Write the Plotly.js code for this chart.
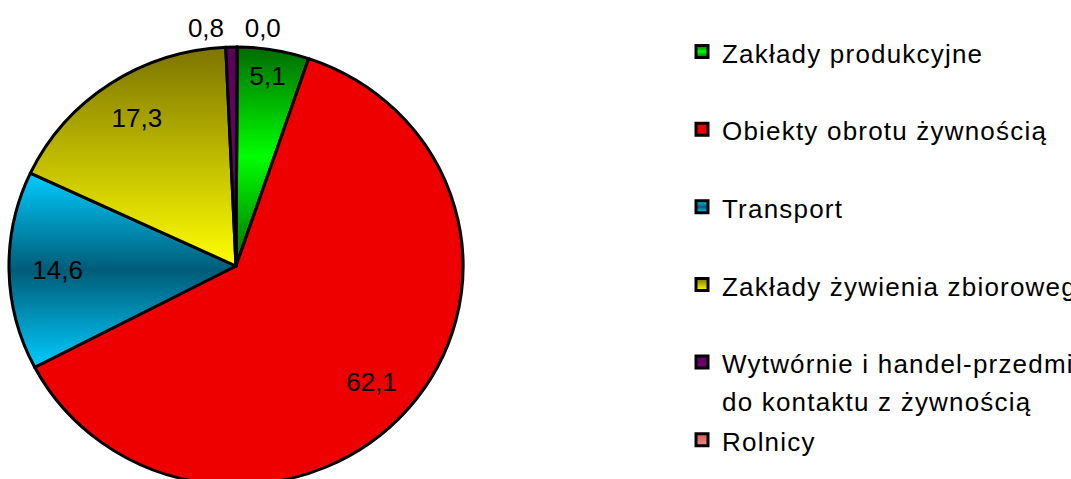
<!DOCTYPE html>
<html>
<head>
<meta charset="utf-8">
<script src="https://cdn.plot.ly/plotly-3.0.1.min.js"></script>
<style>
html, body { margin: 0; padding: 0; overflow: hidden; background: #ffffff; }
#chart { width: 1071px; height: 532px; }
</style>
</head>
<body>
<div id="chart"></div>
<script>
// ---- data ----
const categories = [
  "Zakłady produkcyjne",
  "Obiekty obrotu żywnością",
  "Transport",
  "Zakłady żywienia zbiorowego",
  "Wytwórnie i handel-przedmioty przeznaczone<br>do kontaktu z żywnością",
  "Rolnicy"
];
const shares = [5.1, 62.1, 14.6, 17.3, 0.8, 0.0];
const labelPositions = ["inside", "inside", "inside", "inside", "outside", "outside"];

// ---- styles ----
const baseColors = ["#00c800", "#ee0000", "#0090b0", "#d8d000", "#660066", "#e87070"];
const gradients = [
  [[0, "#006a00"], [0.5, "#00ff00"], [1, "#006a00"]],
  [[0, "#ee0000"], [1, "#ee0000"]],
  [[0, "#00ccff"], [0.5, "#005c78"], [1, "#00ccff"]],
  [[0, "#7c7400"], [1, "#ffff00"]],
  [[0, "#5c005c"], [1, "#780078"]],
  [[0, "#d85858"], [1, "#f08888"]]
];
const FONT = "Liberation Sans, Arial, sans-serif";

const fmt = v => v.toFixed(1).replace(".", ",");
const legendText = categories.map((c, i) => {
  const parts = c.split("<br>").map(p => '<span style="font-size:26px;letter-spacing:1.2px">' + p + '</span>');
  if (parts.length === 1 && i < categories.length - 1) parts.push("\u00a0");
  return parts.join("<br>");
});

const pieDomain = { x: [13 / 1071, 459 / 1071], y: [0, 1] };

const traces = [
  {
    type: "pie",
    labels: legendText,
    values: shares,
    sort: false,
    direction: "clockwise",
    rotation: 0.3,
    domain: pieDomain,
    marker: { colors: baseColors, line: { color: "#000000", width: 3 } },
    textinfo: "none",
    hoverinfo: "skip",
    showlegend: true
  },
  {
    type: "pie",
    labels: legendText,
    values: shares,
    sort: false,
    direction: "clockwise",
    rotation: 0.3,
    hole: 0.6,
    domain: pieDomain,
    marker: { colors: shares.map(() => "rgba(0,0,0,0)"), line: { width: 0 } },
    text: shares.map(fmt),
    textinfo: "text",
    textposition: labelPositions,
    insidetextorientation: "horizontal",
    textfont: { family: FONT, size: 26, color: "#000000" },
    outsidetextfont: { family: FONT, size: 26, color: "#000000" },
    insidetextfont: { family: FONT, size: 26, color: "#000000" },
    hoverinfo: "skip",
    showlegend: false
  }
];

const layout = {
  width: 1071,
  height: 532,
  margin: { l: 0, r: 0, t: 0, b: 0, autoexpand: false },
  paper_bgcolor: "#ffffff",
  plot_bgcolor: "#ffffff",
  separators: ", ",
  font: { family: FONT, size: 26, color: "#000000" },
  showlegend: true,
  legend: {
    x: 682 / 1071,
    xanchor: "left",
    y: 0.9504,
    yanchor: "top",
    valign: "top",
    font: { family: FONT, size: 28.7, color: "#000000" },
    bgcolor: "rgba(0,0,0,0)",
    borderwidth: 0,
    traceorder: "normal"
  }
};

Plotly.newPlot("chart", traces, layout, { staticPlot: true, displayModeBar: false }).then(gd => {
  const svg = gd.querySelector("svg.main-svg");
  let defs = svg.querySelector("defs");
  const NS = "http://www.w3.org/2000/svg";
  gradients.forEach((stops, i) => {
    const g = document.createElementNS(NS, "linearGradient");
    g.setAttribute("id", "slicegrad" + i);
    g.setAttribute("x1", "0"); g.setAttribute("y1", "0");
    g.setAttribute("x2", "0"); g.setAttribute("y2", "1");
    stops.forEach(([o, c]) => {
      const s = document.createElementNS(NS, "stop");
      s.setAttribute("offset", o);
      s.setAttribute("stop-color", c);
      g.appendChild(s);
    });
    defs.appendChild(g);
  });
  const firstTrace = gd.querySelectorAll(".pielayer .trace")[0];
  firstTrace.querySelectorAll("g.slice path.surface").forEach((p, i) => {
    p.style.fill = "url(#slicegrad" + i + ")";
  });
  gd.querySelectorAll(".legend path.legendpie").forEach((p, i) => {
    p.style.fill = "url(#slicegrad" + i + ")";
  });
  // the reference pie is slightly wider than tall: stretch the slice layer a little
  const bb = firstTrace.getBBox();
  const cx = bb.x + bb.width / 2, cy = bb.y + bb.height / 2;
  const r = bb.width / 2;
  const sx = (r + 4) / r, sy = (r - 4) / r;
  firstTrace.setAttribute("transform",
    "translate(" + cx + "," + cy + ") scale(" + sx + "," + sy + ") translate(" + (-cx) + "," + (-cy) + ")");
});
</script>
</body>
</html>
